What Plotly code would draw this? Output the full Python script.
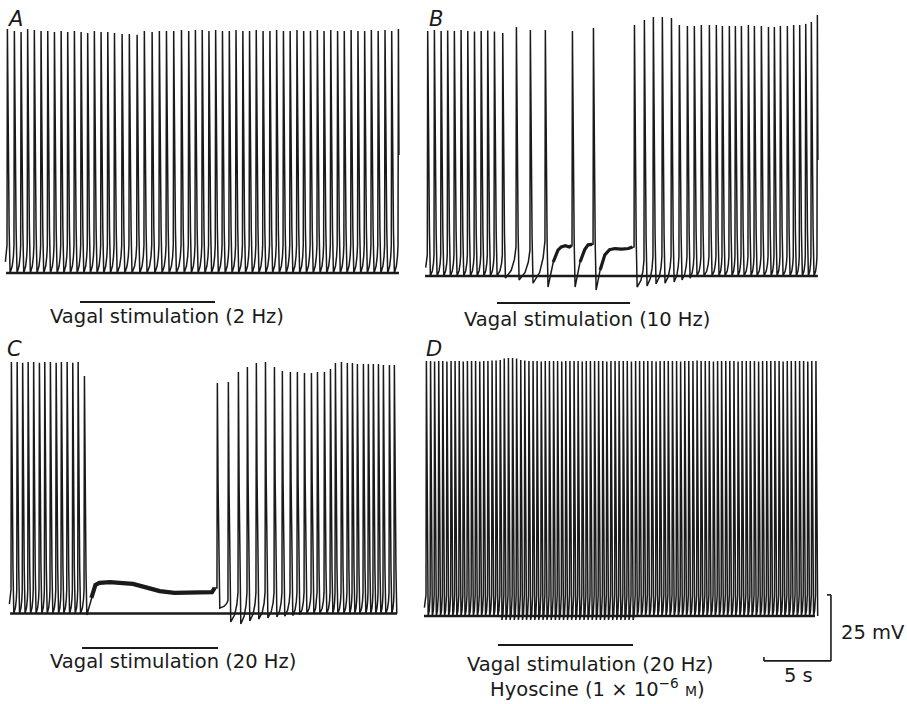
import plotly.graph_objects as go

W, H = 907, 704
PX_PER_S = 13.4      # 5 s scale bar = 67 px
PX_PER_MV = 2.64     # 25 mV scale bar = 66 px
INK = "#1a1a1a"
FONT = "DejaVu Sans"

# pixel position of t = 0 s and of the 0 mV baseline for each panel
ORIGIN = {"A": (7.0, 273.0), "B": (427.3, 276.0), "C": (11.0, 613.5), "D": (426.0, 616.0)}

# ---------------- Panel A : vagal stimulation 2 Hz ----------------
A_t = [0.00, 0.52, 1.02, 1.51, 2.01, 2.51, 3.01, 3.51, 4.01, 4.50,
       5.00, 5.50, 5.99, 6.49, 6.99, 7.49, 7.99, 8.56, 9.10, 9.68,
       10.22, 10.80, 11.34, 11.87, 12.41, 12.99, 13.53, 14.03, 14.54, 15.04,
       15.54, 16.05, 16.56, 17.06, 17.57, 18.07, 18.57, 19.08, 19.59, 20.09,
       20.60, 21.10, 21.61, 22.11, 22.62, 23.13, 23.63, 24.13, 24.64, 25.14,
       25.65, 26.16, 26.66, 27.16, 27.67, 28.18, 28.68, 29.18]
A_peak = [92.4, 91.7, 91.3, 92.4, 92.0, 91.7, 91.7, 91.3, 91.7, 91.3,
          91.7, 91.3, 90.9, 91.7, 91.3, 91.3, 90.9, 90.5, 90.5, 90.2,
          91.7, 91.3, 91.7, 91.7, 91.7, 92.0, 91.7, 92.0, 92.0, 91.7,
          92.0, 91.7, 91.7, 92.0, 91.7, 91.7, 92.0, 91.7, 91.7, 92.0,
          91.7, 91.7, 92.0, 91.7, 91.7, 92.0, 91.7, 92.0, 91.7, 91.7,
          92.0, 91.7, 91.7, 92.0, 91.7, 92.0, 91.7, 92.4]
A_trough = [0.0] * len(A_t)
A_foot = [10.5] * len(A_t)
A_end_mV = 44.7
A_stim = [5.45, 15.52]

# ---------------- Panel B : vagal stimulation 10 Hz ----------------
B_t = [0.00, 0.50, 1.00, 1.49, 1.99, 2.49, 2.99, 3.49, 3.99, 4.48, 4.98, 5.60,
       6.62, 7.66, 8.78, 10.80, 12.37, 15.43,
       16.17, 16.84, 17.51, 18.19, 18.78, 19.38, 19.90, 20.42, 21.02, 21.54,
       21.99, 22.51, 22.96, 23.41, 23.93, 24.38, 24.90, 25.43, 25.87, 26.32,
       26.84, 27.31, 27.76, 28.21, 28.63, 29.08]
B_peak = [92.8, 93.2, 92.8, 93.0, 92.8, 93.2, 92.8, 92.6, 92.8, 93.0, 92.6, 92.0,
          94.3, 93.2, 93.2, 92.8, 93.9, 95.1,
          97.0, 98.1, 98.1, 97.7, 95.1, 94.7, 94.7, 95.1, 95.1, 95.1,
          94.7, 94.7, 94.7, 94.7, 95.1, 94.7, 94.7, 94.3, 94.3, 94.7,
          94.7, 95.1, 95.1, 95.5, 96.2, 98.9]
B_trough = [0.0, 0.0, 0.0, 0.0, 0.0, 0.0, 0.0, 0.0, 0.0, 0.0, 0.0, -0.8,
            -1.5, -2.7, -4.2, -4.2, -5.3, -4.2,
            -3.8, -3.0, -2.7, -2.3, -1.5, -0.8, 0.0, 0.0, 0.0, 0.0,
            0.0, 0.0, 0.0, 0.0, 0.0, 0.0, 0.0, 0.0, 0.0, 0.0,
            0.0, 0.0, 0.0, 0.0, 0.0, 0.0]
B_foot = [8.0, 8.0, 8.0, 8.0, 8.0, 8.0, 8.0, 8.0, 8.0, 8.0, 8.0, 8.0,
          11.0, 9.8, 13.3, 11.5, 12.0, 11.0,
          6.0, 7.5, 7.5, 7.5, 7.5, 7.5, 7.5, 7.5, 7.5, 7.5,
          7.5, 7.5, 7.5, 7.5, 7.5, 7.5, 7.5, 7.5, 7.5, 7.5,
          7.5, 7.5, 7.5, 7.5, 7.5, 7.5]
B_plateau_after = [14, 15, 16]
B_plateau_t = [[9.40, 9.75, 10.00, 10.30, 10.60, 10.75],
               [11.40, 11.75, 12.00, 12.30],
               [12.90, 13.25, 13.60, 14.00, 14.50, 15.00, 15.30]]
B_plateau_v = [[5.3, 9.8, 11.0, 11.5, 11.0, 11.5],
               [5.3, 10.0, 11.8, 12.0],
               [2.3, 8.0, 10.0, 10.4, 10.2, 10.4, 11.0]]
B_end_mV = 43.9
B_stim = [5.20, 15.13]

# ---------------- Panel C : vagal stimulation 20 Hz ----------------
C_t = [0.00, 0.43, 0.84, 1.25, 1.66, 2.09, 2.49, 2.91, 3.34, 3.73, 4.16, 4.58, 4.98, 5.45,
       15.37, 16.19, 16.94, 17.61, 18.28, 18.96, 19.63, 20.22, 20.82, 21.34,
       21.87, 22.39, 22.84, 23.36, 23.81, 24.18, 24.63, 25.07, 25.45, 25.82,
       26.27, 26.64, 27.01, 27.39, 27.76, 28.21, 28.58]
C_peak = [95.3, 95.3, 95.0, 95.3, 95.3, 95.0, 95.3, 95.3, 95.0, 95.3, 95.3, 95.0, 95.3, 90.0,
          87.3, 87.7, 91.5, 93.4, 94.9, 95.3, 93.4, 91.9, 91.5, 91.5,
          91.1, 91.1, 91.5, 91.5, 92.6, 94.9, 95.3, 94.9, 94.9, 94.5,
          94.5, 94.5, 94.5, 94.5, 94.1, 94.1, 94.1]
C_trough = [0.0, 0.0, 0.0, 0.0, 0.0, 0.0, 0.0, 0.0, 0.0, 0.0, 0.0, 0.0, 0.0, -0.6,
            2.0, -3.2, -4.0, -2.8, -2.1, -1.7, -1.3, -1.0, -0.8, -0.5,
            0.0, 0.0, 0.0, 0.0, 0.0, 0.0, 0.0, 0.0, 0.0, 0.0,
            0.0, 0.0, 0.0, 0.0, 0.0, 0.0, 0.0]
C_foot = [9.0, 9.0, 9.0, 9.0, 9.0, 9.0, 9.0, 9.0, 9.0, 9.0, 9.0, 9.0, 9.0, 9.0,
          9.7, 5.0, 8.0, 8.0, 8.0, 8.0, 8.0, 8.0, 8.0, 8.0,
          8.0, 8.0, 8.0, 8.0, 8.0, 8.0, 8.0, 8.0, 8.0, 8.0,
          8.0, 8.0, 8.0, 8.0, 8.0, 8.0, 8.0]
C_plateau_after = [13]
C_plateau_t = [[6.00, 6.30, 6.60, 7.40, 8.10, 9.10, 10.00, 11.10, 12.20, 14.10, 15.00, 15.20]]
C_plateau_v = [[5.9, 10.8, 11.6, 11.9, 11.6, 11.2, 10.0, 8.5, 7.8, 7.8, 8.1, 9.7]]
C_stim = [5.30, 15.45]

# ---------------- Panel D : 20 Hz with hyoscine ----------------
D_t = [0.00, 0.31, 0.61, 0.92, 1.22, 1.53, 1.84, 2.14, 2.45, 2.75,
       3.06, 3.37, 3.67, 3.98, 4.28, 4.59, 4.90, 5.20, 5.51, 5.81,
       6.12, 6.43, 6.73, 7.04, 7.34, 7.65, 7.96, 8.26, 8.57, 8.87,
       9.18, 9.49, 9.79, 10.10, 10.40, 10.71, 11.02, 11.32, 11.63, 11.93,
       12.24, 12.55, 12.85, 13.16, 13.46, 13.77, 14.08, 14.38, 14.69, 14.99,
       15.30, 15.61, 15.91, 16.22, 16.52, 16.83, 17.14, 17.44, 17.75, 18.05,
       18.36, 18.67, 18.97, 19.28, 19.58, 19.89, 20.20, 20.50, 20.81, 21.11,
       21.42, 21.73, 22.03, 22.34, 22.64, 22.95, 23.26, 23.56, 23.87, 24.17,
       24.48, 24.79, 25.09, 25.40, 25.70, 26.01, 26.32, 26.62, 26.93, 27.23,
       27.54, 27.85, 28.15, 28.46, 28.76, 29.07]
D_peak = [96.6, 96.6, 96.4, 96.6, 96.6, 96.4, 96.6, 96.6, 96.6, 96.4,
          96.6, 96.6, 96.6, 96.4, 96.6, 96.6, 96.8, 96.8, 97.0, 97.5,
          97.7, 97.7, 97.5, 97.0, 96.8, 96.6, 96.6, 96.6, 96.4, 96.6,
          96.6, 96.6, 96.6, 96.4, 96.6, 96.6, 96.6, 96.6, 96.4, 96.6,
          96.6, 96.6, 96.6, 96.6, 96.4, 96.6, 96.6, 96.6, 96.6, 96.6,
          96.4, 96.6, 96.6, 96.6, 96.6, 96.6, 96.4, 96.6, 96.6, 96.6,
          96.6, 96.6, 96.4, 96.6, 96.6, 96.6, 96.8, 96.6, 96.6, 96.6,
          96.4, 96.6, 96.6, 96.6, 96.6, 96.6, 96.4, 96.6, 96.6, 96.6,
          96.6, 96.4, 96.6, 96.6, 96.6, 96.6, 96.6, 96.4, 96.6, 96.6,
          96.6, 96.6, 96.6, 96.4, 96.6, 96.6]
D_trough = [0.0, 0.0, 0.0, 0.0, 0.0, 0.0, 0.0, 0.0, 0.0, 0.0,
            0.0, 0.0, 0.0, 0.0, 0.0, 0.0, 0.0, 0.0, -1.5, -1.5,
            -1.5, -1.5, -1.5, -1.5, -1.5, -1.5, -1.5, -1.5, -1.5, -1.5,
            -1.5, -1.5, -1.5, -1.5, -1.5, -1.5, -1.5, -1.5, -1.5, -1.5,
            -1.5, -1.5, -1.5, -1.5, -1.5, -1.5, -1.5, -1.5, -1.5, -1.5,
            -1.5, 0.0, 0.0, 0.0, 0.0, 0.0, 0.0, 0.0, 0.0, 0.0,
            0.0, 0.0, 0.0, 0.0, 0.0, 0.0, 0.0, 0.0, 0.0, 0.0,
            0.0, 0.0, 0.0, 0.0, 0.0, 0.0, 0.0, 0.0, 0.0, 0.0,
            0.0, 0.0, 0.0, 0.0, 0.0, 0.0, 0.0, 0.0, 0.0, 0.0,
            0.0, 0.0, 0.0, 0.0, 0.0, 0.0]
D_foot = [8.0] * len(D_t)
D_stim = [5.37, 15.45]

# baseline (reference line) extents, s
BASE_T = {"A": [-0.07, 29.25], "B": [-0.17, 29.15], "C": [-0.07, 28.81], "D": [-0.15, 29.03]}
STIM_BAR_MV = {"A": -11.0, "B": -10.2, "C": -13.1, "D": -11.0}
REP = {"A": 0.20, "B": 0.20, "C": 0.18, "D": 0.13}

# scale bar (panel D coordinates)
SCALE_T = [25.22, 30.22]     # 5 s
SCALE_MV = [-17.0, 8.0]      # 25 mV


def build(t, peak, trough, foot, rep, plat_after=(), plat_t=(), plat_v=(), end_v=None):
    xs, ys = [t[0] - 0.12], [foot[0] * 0.4]
    thick = []
    n = len(t)
    for i in range(n):
        ti, P, T, F = t[i], peak[i], trough[i], foot[i]
        xs += [ti, ti + 0.03]
        ys += [F, P]
        ts = ti + 0.03
        if i == n - 1 and end_v is not None:
            xs.append(ts + 0.04)
            ys.append(end_v)
            break
        xs += [ts + rep * 0.3, ts + rep * 0.65, ts + rep]
        ys += [T + (P - T) * 0.55, T + (P - T) * 0.18, T]
        tT = ts + rep
        if i in plat_after:
            k = list(plat_after).index(i)
            xs += list(plat_t[k])
            ys += list(plat_v[k])
            thick.append((list(plat_t[k]), list(plat_v[k])))
        elif i < n - 1:
            D = t[i + 1] - tT
            F2 = foot[i + 1]
            xs += [tT + 0.55 * D, tT + 0.85 * D]
            ys += [T + (F2 - T) * 0.25, T + (F2 - T) * 0.6]
    return xs, ys, thick


panels = {
    "A": build(A_t, A_peak, A_trough, A_foot, REP["A"], end_v=A_end_mV),
    "B": build(B_t, B_peak, B_trough, B_foot, REP["B"], B_plateau_after, B_plateau_t, B_plateau_v, end_v=B_end_mV),
    "C": build(C_t, C_peak, C_trough, C_foot, REP["C"], C_plateau_after, C_plateau_t, C_plateau_v),
    "D": build(D_t, D_peak, D_trough, D_foot, REP["D"]),
}
stims = {"A": A_stim, "B": B_stim, "C": C_stim, "D": D_stim}
axes = {"A": ("x", "y"), "B": ("x2", "y2"), "C": ("x3", "y3"), "D": ("x4", "y4")}

fig = go.Figure()
shapes = []
for key, (xs, ys, thick) in panels.items():
    xa, ya = axes[key]
    fig.add_trace(go.Scatter(x=BASE_T[key], y=[0, 0], mode="lines", xaxis=xa, yaxis=ya,
                             line=dict(color=INK, width=2.4), hoverinfo="skip"))
    fig.add_trace(go.Scatter(x=xs, y=ys, mode="lines", xaxis=xa, yaxis=ya,
                             line=dict(color=INK, width=1.5), hoverinfo="skip"))
    for tx, ty in thick:
        fig.add_trace(go.Scatter(x=tx, y=ty, mode="lines", xaxis=xa, yaxis=ya,
                                 line=dict(color=INK, width=3.2 if key == "B" else 4.2), hoverinfo="skip"))
    shapes.append(dict(type="line", xref=xa, yref=ya, x0=stims[key][0], x1=stims[key][1],
                       y0=STIM_BAR_MV[key], y1=STIM_BAR_MV[key], line=dict(color=INK, width=2)))

shapes += [
    dict(type="line", xref="x4", yref="y4", x0=SCALE_T[1], x1=SCALE_T[1], y0=SCALE_MV[0], y1=SCALE_MV[1],
         line=dict(color=INK, width=1.6)),
    dict(type="line", xref="x4", yref="y4", x0=SCALE_T[0], x1=SCALE_T[1], y0=SCALE_MV[0], y1=SCALE_MV[0],
         line=dict(color=INK, width=1.6)),
    dict(type="line", xref="x4", yref="y4", x0=SCALE_T[0], x1=SCALE_T[0], y0=SCALE_MV[0], y1=SCALE_MV[0] + 1.5,
         line=dict(color=INK, width=1.6)),
    dict(type="line", xref="x4", yref="y4", x0=SCALE_T[1] - 0.3, x1=SCALE_T[1], y0=SCALE_MV[1], y1=SCALE_MV[1],
         line=dict(color=INK, width=1.6)),
]


def px(x, y):
    return x / W, 1 - y / H


annotations = []
for label, (x, y) in {"A": (15, 19), "B": (436, 19), "C": (14, 349), "D": (434, 349)}.items():
    ax_, ay_ = px(x, y)
    annotations.append(dict(text=label, x=ax_, y=ay_, xref="paper", yref="paper",
                            showarrow=False, xanchor="center", yanchor="middle",
                            font=dict(family=FONT, size=21, color=INK, style="italic")))
texts = [
    ("Vagal stimulation (2 Hz)", 166.5, 316),
    ("Vagal stimulation (10 Hz)", 587, 319),
    ("Vagal stimulation (20 Hz)", 172.5, 661),
    ("Vagal stimulation (20 Hz)", 590, 664),
    ("Hyoscine (1 × 10<sup>−6</sup> <span style='font-size:14px'>M</span>)", 597, 688),
    ("5 s", 798, 675),
]
for s, x, y in texts:
    ax_, ay_ = px(x, y)
    annotations.append(dict(text=s, x=ax_, y=ay_, xref="paper", yref="paper", showarrow=False,
                            xanchor="center", yanchor="middle",
                            font=dict(family=FONT, size=19.5, color=INK)))
ax_, ay_ = px(839, 632)
annotations.append(dict(text="25 mV", x=ax_, y=ay_, xref="paper", yref="paper", showarrow=False,
                        xanchor="left", yanchor="middle", font=dict(family=FONT, size=19.5, color=INK)))


def xr(key):
    x0, _ = ORIGIN[key]
    return [(0 - x0) / PX_PER_S, (W - x0) / PX_PER_S]


def yr(key):
    _, yb = ORIGIN[key]
    return [(yb - H) / PX_PER_MV, yb / PX_PER_MV]


layout = dict(
    width=W, height=H, autosize=False, margin=dict(l=0, r=0, t=0, b=0),
    paper_bgcolor="white", plot_bgcolor="rgba(0,0,0,0)", showlegend=False, hovermode=False,
    shapes=shapes, annotations=annotations,
)
for i, key in enumerate(["A", "B", "C", "D"]):
    sx = "" if i == 0 else str(i + 1)
    xd = dict(range=xr(key), domain=[0, 1], visible=False, fixedrange=True, anchor="y" + sx)
    yd = dict(range=yr(key), domain=[0, 1], visible=False, fixedrange=True, anchor="x" + sx)
    if i > 0:
        xd["overlaying"] = "x"
        yd["overlaying"] = "y"
    layout["xaxis" + sx] = xd
    layout["yaxis" + sx] = yd

fig.update_layout(**layout)
fig.write_html("out.html", config={"displayModeBar": False})
